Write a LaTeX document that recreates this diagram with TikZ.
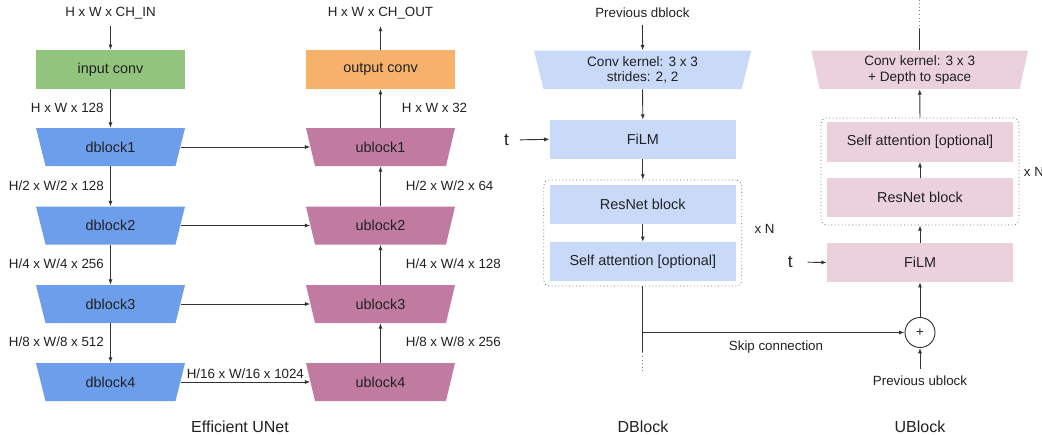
\documentclass[tikz,border=0pt]{standalone}
\usepackage{fontspec}
\setmainfont{Liberation Sans}
\usetikzlibrary{arrows.meta,calc}
\definecolor{cgreen}{HTML}{93C47D}
\definecolor{corange}{HTML}{F6B26B}
\definecolor{cblue}{HTML}{6D9EEB}
\definecolor{cpurple}{HTML}{C27BA0}
\definecolor{clblue}{HTML}{C9DAF8}
\definecolor{clpink}{HTML}{EAD1DC}
\definecolor{ctext}{HTML}{202124}
\definecolor{cline}{HTML}{333333}
\newcommand\trapnode[9]{%
  \fill[#7] (#2-#4,#3-#6) -- (#2+#4,#3-#6) -- (#2+#5,#3+#6) -- (#2-#5,#3+#6) -- cycle;
  \node[inner sep=0pt, minimum width={(#4+#5)*0.75pt}, minimum height={2*#6*0.75pt}, align=center, text=ctext, font=\fontsize{#9}{11.5}\selectfont] (#1) at (#2,#3) {#8};}
\begin{document}
\begin{tikzpicture}[x=0.75pt,y=-0.75pt,
  lbl/.style={text=ctext, font=\fontsize{10}{12}\selectfont, inner sep=2pt},
  ttl/.style={text=ctext, font=\fontsize{12}{14}\selectfont},
  arr/.style={draw=cline, line width=0.7pt, -{Latex[length=4pt,width=3pt]}},
  ln/.style={draw=cline, line width=0.7pt},
  dln/.style={draw=gray, line width=0.7pt, dotted},
  rbox/.style={inner sep=0pt, minimum width=139.5pt, minimum height=29pt, text=ctext, font=\fontsize{10.8}{12}\selectfont},
  grp/.style={draw=gray!80!black, dotted, line width=0.6pt, rounded corners=4pt, inner sep=0pt}
]
\useasboundingbox (0,0) rectangle (1042,435);

% ---------- Efficient UNet ----------
\node[lbl] (inlbl) at (110.5,13) {H x W x CH\_IN};
\node[lbl] (outlbl) at (380.5,13) {H x W x CH\_OUT};
\node[rbox, fill=cgreen, minimum width=111.75pt] (inC) at (110.5,69.5) {input conv};
\node[rbox, fill=corange, minimum width=111.75pt] (outC) at (380.5,69.5) {output conv};

\trapnode{d1}{110.5}{147}{74.5}{65}{19}{cblue}{dblock1}{10.8}
\trapnode{d2}{110.5}{225.5}{74.5}{65}{19}{cblue}{dblock2}{10.8}
\trapnode{d3}{110.5}{304}{74.5}{65}{19}{cblue}{dblock3}{10.8}
\trapnode{d4}{110.5}{382}{74.5}{65}{19}{cblue}{dblock4}{10.8}
\trapnode{u1}{380.5}{147}{74.5}{65.5}{19}{cpurple}{ublock1}{10.8}
\trapnode{u2}{380.5}{225.5}{74.5}{65.5}{19}{cpurple}{ublock2}{10.8}
\trapnode{u3}{380.5}{304}{74.5}{65.5}{19}{cpurple}{ublock3}{10.8}
\trapnode{u4}{380.5}{382}{74.5}{65.5}{19}{cpurple}{ublock4}{10.8}

\draw[arr, shorten <=3pt] (inlbl.south) -- (inC.north);
\draw[arr] (inC.south) -- (d1.north);
\draw[arr] (d1.south) -- (d2.north);
\draw[arr] (d2.south) -- (d3.north);
\draw[arr] (d3.south) -- (d4.north);
\draw[arr] (u4.north) -- (u3.south);
\draw[arr] (u3.north) -- (u2.south);
\draw[arr] (u2.north) -- (u1.south);
\draw[arr] (u1.north) -- (outC.south);
\draw[arr, shorten >=3pt] (outC.north) -- (outlbl.south);
\draw[arr] (d1.east) -- (u1.west);
\draw[arr] (d2.east) -- (u2.west);
\draw[arr] (d3.east) -- (u3.west);
\draw[arr] (d4.east) -- node[lbl, above, inner sep=2pt] (l16) {H/16 x W/16 x 1024} (u4.west);

\node[lbl, anchor=west] (l1) at (28,108) {H x W x 128};
\node[lbl, anchor=west] (l2) at (6,186) {H/2 x W/2 x 128};
\node[lbl, anchor=west] (l3) at (6,264) {H/4 x W/4 x 256};
\node[lbl, anchor=west] (l4) at (6,342) {H/8 x W/8 x 512};
\node[lbl, anchor=west] (r1) at (399,108) {H x W x 32};
\node[lbl, anchor=west] (r2) at (403,186) {H/2 x W/2 x 64};
\node[lbl, anchor=west] (r3) at (403,264) {H/4 x W/4 x 128};
\node[lbl, anchor=west] (r4) at (403,342) {H/8 x W/8 x 256};
\node[ttl] (tunet) at (240,427) {Efficient UNet};

% ---------- DBlock ----------
\node[lbl] (prevd) at (642.4,13) {Previous dblock};
\trapnode{dconv}{642.6}{69.85}{108.6}{99.1}{19.15}{clblue}{Conv kernel: 3 x 3\\strides: 2, 2}{10.2}
\node[rbox, fill=clblue] (dfilm) at (642.8,139.3) {FiLM};
\node[grp, minimum width=148.5pt, minimum height=79.5pt] (dgrp) at (642.8,233) {};
\node[rbox, fill=clblue] (dres) at (642.8,204.5) {ResNet block};
\node[rbox, fill=clblue] (dsa) at (642.8,261.5) {Self attention [optional]};
\node[lbl] (td) at (506.5,140) {\fontsize{13}{15}\selectfont t};
\node[lbl] (xnd) at (764.6,229) {x N};
\draw[arr, shorten <=6pt] (td.east) -- (dfilm.west);
\draw[arr, shorten <=3pt] (prevd.south) -- (dconv.north);
\draw[arr] (dconv.south) -- (dfilm.north);
\draw[arr] (dfilm.south) -- (dgrp.north);
\draw[arr] (dres.south) -- (dsa.north);

% skip / plus
\node[draw=cline, line width=0.7pt, circle, minimum size=22.5pt, inner sep=0pt, text=ctext] (plus) at (920,332.5) {+};
\coordinate (dsk) at (dgrp.south |- plus.west);
\coordinate (dsolid) at ($(dgrp.south)+(0,66)$);
\coordinate (dend) at ($(dgrp.south)+(0,85)$);
\draw[ln] (dgrp.south) -- (dsolid);
\draw[dln] (dsolid) -- (dend);
\draw[arr] (dsk) -- (plus.west);
\node[lbl] (skiplbl) at (776,347) {Skip connection};
\node[ttl] (tdblock) at (643,427) {DBlock};

% ---------- UBlock ----------
\node[lbl] (prevu) at (920,381) {Previous ublock};
\trapnode{uconv}{919.7}{69.85}{108.3}{99.95}{19.15}{clpink}{Conv kernel: 3 x 3\\+ Depth to space}{10.2}
\node[rbox, fill=clpink] (ufilm) at (920,262.5) {FiLM};
\node[grp, minimum width=148.5pt, minimum height=80.25pt] (ugrp) at (920,171.5) {};
\node[rbox, fill=clpink, minimum height=29.8pt] (usa) at (920,141.8) {Self attention [optional]};
\node[rbox, fill=clpink] (ures) at (920,197.2) {ResNet block};
\node[lbl] (tu) at (790.3,262) {\fontsize{13}{15}\selectfont t};
\node[lbl, anchor=west] (xnu) at (1021,172) {x N};
\coordinate (utop) at ($(uconv.north)+(0,-21)$);
\coordinate (uend) at ($(uconv.north)+(0,-51)$);
\draw[arr, shorten <=3pt] (prevu.north) -- (plus.south);
\draw[arr] (plus.north) -- (ufilm.south);
\draw[arr, shorten <=9pt] (tu.east) -- (ufilm.west);
\draw[arr] (ufilm.north) -- (ugrp.south);
\draw[arr] (ures.north) -- (usa.south);
\draw[arr] (ugrp.north) -- (uconv.south);
\draw[ln] (uconv.north) -- (utop);
\draw[dln] (utop) -- (uend);
\node[ttl] (tublock) at (920,427) {UBlock};
\end{tikzpicture}
\end{document}
